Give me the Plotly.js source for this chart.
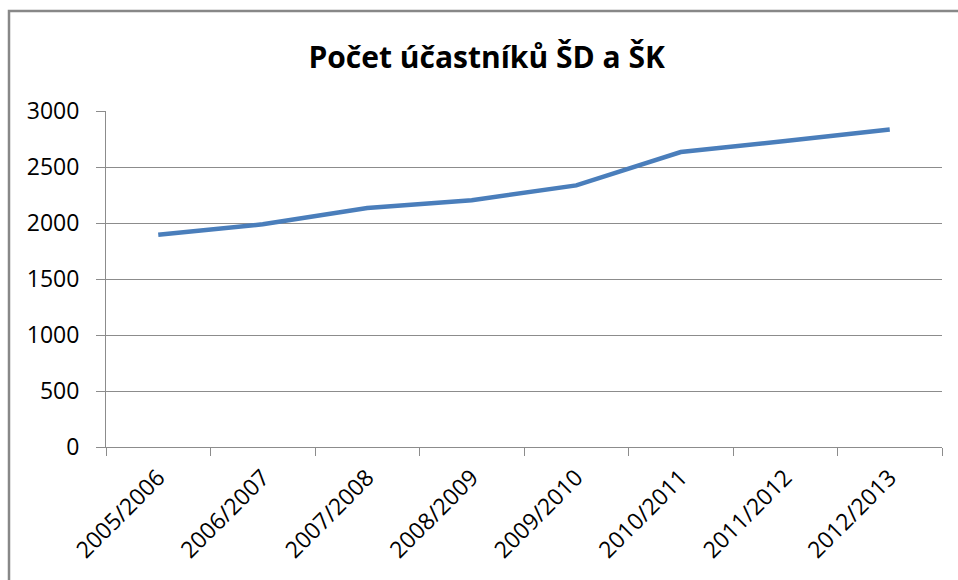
<!DOCTYPE html>
<html>
<head>
<meta charset="utf-8">
<script src="https://cdn.plot.ly/plotly-3.0.1.min.js"></script>
<style>
  html, body { margin: 0; padding: 0; background: #ffffff; }
  #chart { width: 958px; height: 580px; }
</style>
</head>
<body>
<div id="chart"></div>
<script>
// School years on the category axis
const years = ['2005/2006', '2006/2007', '2007/2008', '2008/2009',
               '2009/2010', '2010/2011', '2011/2012', '2012/2013'];
// Number of participants per school year
const participants = [1896, 1988, 2134, 2203, 2336, 2634, 2732, 2834];
// Value axis ticks
const yTicks = [0, 500, 1000, 1500, 2000, 2500, 3000];

const gridGray = '#8c8c8c';
const tickFont = { family: 'Open Sans, sans-serif', size: 23, color: '#000000' };

const trace = {
  type: 'scatter',
  mode: 'lines',
  x: years,
  y: participants,
  line: { color: '#4a7ebb', width: 4.5, shape: 'linear' },
  hoverinfo: 'x+y'
};

const layout = {
  width: 958,
  height: 580,
  margin: { l: 106, r: 16, t: 111, b: 133, pad: 0 },
  paper_bgcolor: '#ffffff',
  plot_bgcolor: '#ffffff',
  showlegend: false,
  title: {
    text: '<b>Počet účastníků ŠD a ŠK</b>',
    font: { family: 'Open Sans, sans-serif', size: 30, color: '#000000' },
    xref: 'container', x: 0.508, xanchor: 'center',
    yref: 'container', y: 1 - 57 / 580, yanchor: 'middle'
  },
  xaxis: {
    type: 'category',
    categoryorder: 'array',
    categoryarray: years,
    range: [-0.5, years.length - 0.5],
    tickson: 'boundaries',
    ticks: 'outside',
    ticklen: 8,
    tickwidth: 1,
    tickcolor: gridGray,
    showline: true,
    linecolor: gridGray,
    linewidth: 1,
    showgrid: false,
    zeroline: false,
    tickangle: -45,
    tickfont: tickFont,
    ticklabelstandoff: 7,
    fixedrange: true
  },
  yaxis: {
    range: [0, 3000],
    tickmode: 'array',
    tickvals: yTicks,
    ticktext: yTicks.map(String),
    ticks: 'outside',
    ticklen: 9,
    tickwidth: 1,
    tickcolor: gridGray,
    showline: true,
    linecolor: gridGray,
    linewidth: 1,
    showgrid: true,
    gridcolor: gridGray,
    gridwidth: 1,
    zeroline: false,
    tickfont: tickFont,
    ticklabelstandoff: 12,
    fixedrange: true
  },
  shapes: [
    // outer chart frame (top and left edges visible)
    {
      type: 'rect',
      xref: 'paper', yref: 'paper',
      x0: (9 - 106) / 836, x1: (970 - 106) / 836,
      y0: (447 - 600) / 336, y1: (447 - 11) / 336,
      line: { color: '#888888', width: 2.5 },
      fillcolor: 'rgba(0,0,0,0)',
      layer: 'above'
    }
  ]
};

Plotly.newPlot('chart', [trace], layout, { displayModeBar: false, staticPlot: true });
</script>
</body>
</html>
